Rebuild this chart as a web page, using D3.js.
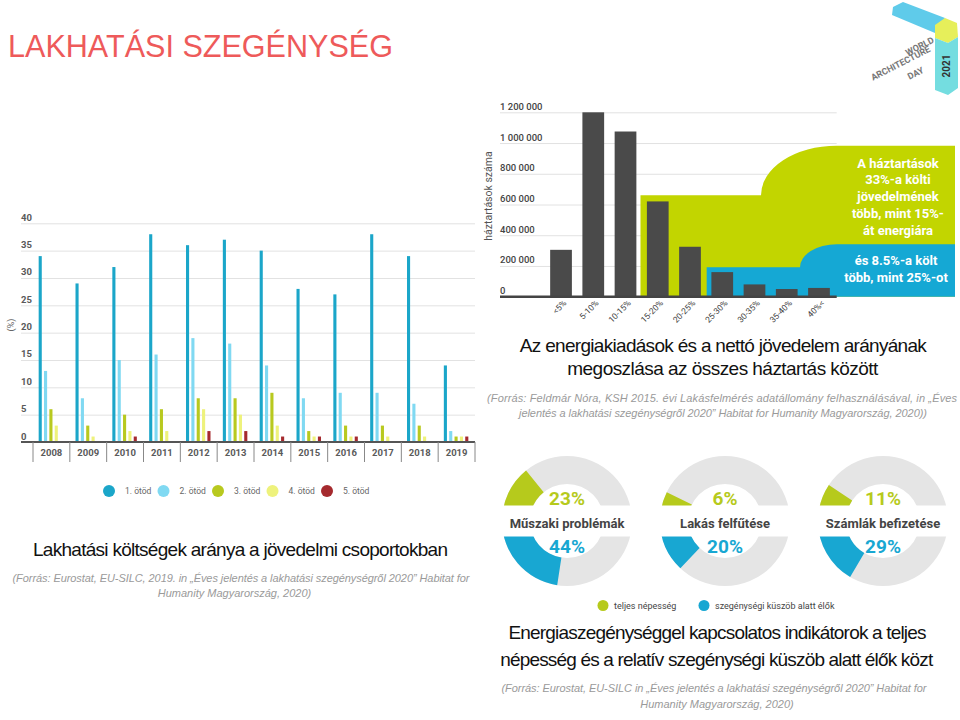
<!DOCTYPE html>
<html><head><meta charset="utf-8">
<script src="https://cdn.jsdelivr.net/npm/d3@7"></script>
<style>body{margin:0;background:#fff}svg{display:block}</style>
</head><body>
<svg id="c" width="960" height="720"></svg>
<script>
// ---------- DATA ----------
const years = ["2008","2009","2010","2011","2012","2013","2014","2015","2016","2017","2018","2019"];
const quintiles = ["1. ötöd","2. ötöd","3. ötöd","4. ötöd","5. ötöd"];
const q1 = [34,29,32,38,36,37,35,28,27,38,34,14];
const q2 = [13,8,15,16,19,18,14,8,9,9,7,2];
const q3 = [6,3,5,6,8,8,9,2,3,3,3,1];
const q4 = [3,1,2,2,6,5,3,1,1,1,1,1];
const q5 = [0,0,1,0,2,2,1,1,1,0,0,1];
const leftTicks = [0,5,10,15,20,25,30,35,40];

const shareCats = ["<5%","5-10%","10-15%","15-20%","20-25%","25-30%","30-35%","35-40%","40%<"];
const households = [305000,1200000,1075000,620000,325000,160000,80000,50000,57000];
const hhTicks = [0,200000,400000,600000,800000,1000000,1200000];
const greenNote = ["A háztartások","33%-a költi","jövedelmének","több, mint 15%-","át energiára"];
const blueNote = ["és 8.5%-a költ","több, mint 25%-ot"];

const indicators = ["Műszaki problémák","Lakás felfűtése","Számlák befizetése"];
const totalPop = [23,6,11];
const belowThreshold = [44,20,29];
const donutLegend = ["teljes népesség","szegénységi küszöb alatt élők"];

// ---------- STYLE ----------
const qColors = ["#1ba6c9","#80d9f2","#b8c91f","#eef27c","#a52a2e"];
const GREEN = "#c2d500", BLUE = "#15a8d4", DGREEN = "#b6ca1c", DBLUE = "#18a7d2";
const ARIAL = "'Liberation Sans', Arial, sans-serif";
const ROBOTO = "Roboto, 'Open Sans', sans-serif";

const root = d3.select("#c");

// ---------- TITLE ----------
root.append("text").attr("x",8).attr("y",57)
  .attr("font-family",ARIAL).attr("font-size",31).attr("fill","#ee5a5a")
  .attr("textLength",385).attr("lengthAdjust","spacingAndGlyphs")
  .text("LAKHATÁSI SZEGÉNYSÉG");

// ---------- LOGO ----------
const logo = root.append("g");
logo.append("polygon").attr("points","903,2 945,18 935,33 892,15 893,7").attr("fill","#5fcbea");
logo.append("polygon").attr("points","935,25 945,18 957,23 958,37 948,43 935,38").attr("fill","#e6ef5a");
logo.append("polygon").attr("points","935,38 948,43 958,37 958,88 948,95 935,90").attr("fill","#74dde0");
logo.append("text").attr("transform","translate(950,66) rotate(-90)").attr("text-anchor","middle")
  .attr("font-family",ROBOTO).attr("font-weight",700).attr("font-size",10).attr("fill","#333").text("2021");
[["WORLD",921,49],["ARCHITECTURE",902,66],["DAY",917,76]].forEach(d=>{
  logo.append("text").attr("transform",`translate(${d[1]},${d[2]}) rotate(-27)`).attr("text-anchor","middle")
    .attr("font-family",ROBOTO).attr("font-weight",700).attr("font-size",9).attr("fill","#777").text(d[0]);
});

// ---------- LEFT CHART ----------
const x0 = d3.scaleBand().domain(years).range([33,475]);
const yL = d3.scaleLinear().domain([0,40]).range([442,223.3]);
const groupW = 24.5;
const x1 = d3.scaleBand().domain(quintiles).range([0,groupW]).paddingInner(0.42);
const gL = root.append("g");

gL.append("g").attr("transform","translate(21,0)")
  .call(d3.axisRight(yL).tickValues(leftTicks).tickSize(454).tickFormat(d=>d))
  .call(g=>{
    g.select(".domain").remove();
    g.selectAll(".tick line").attr("stroke","#e2e2e2");
    g.selectAll(".tick text").attr("x",0).attr("y",-3).attr("dy",null).attr("text-anchor","start")
      .attr("font-family",ROBOTO).attr("font-size",9.5).attr("font-weight",700).attr("fill","#5a5a5a");
  });

gL.append("text").attr("transform","translate(14,325) rotate(-90)").attr("text-anchor","middle")
  .attr("font-family",ROBOTO).attr("font-size",9).attr("fill","#666").text("(%)");

const series = [q1,q2,q3,q4,q5];
years.forEach((yr,i)=>{
  const off = x0(yr) + (x0.bandwidth()-groupW)/2 - 0.5;
  series.forEach((s,k)=>{
    if (s[i] <= 0) return;
    gL.append("rect").attr("x",off + x1(quintiles[k])).attr("width",x1.bandwidth())
      .attr("y",yL(s[i])).attr("height",yL(0)-yL(s[i])).attr("fill",qColors[k]);
  });
});

gL.append("line").attr("x1",21).attr("x2",x0.range()[1]).attr("y1",yL(0)).attr("y2",yL(0))
  .attr("stroke","#555").attr("stroke-width",2);
const seps = years.map(y=>x0(y)).concat([x0.range()[1]]);
gL.selectAll(".sep").data(seps).enter().append("line")
  .attr("x1",d=>d).attr("x2",d=>d).attr("y1",yL(0)).attr("y2",yL(0)+20).attr("stroke","#888").attr("stroke-width",1);
gL.append("g").attr("transform",`translate(0,${yL(0)})`)
  .call(d3.axisBottom(x0).tickSize(0).tickPadding(7))
  .call(g=>{
    g.select(".domain").remove();
    g.selectAll("text").attr("font-family",ROBOTO).attr("font-size",9.5).attr("font-weight",700).attr("fill","#5a5a5a");
  });

// legend
const legL = gL.append("g");
quintiles.forEach((q,k)=>{
  const cx = 109 + k*54.5;
  legL.append("circle").attr("cx",cx).attr("cy",491).attr("r",6).attr("fill",qColors[k]);
  legL.append("text").attr("x",cx+16).attr("y",494).attr("font-family",ROBOTO).attr("font-size",8.5)
    .attr("fill","#666").text(q);
});

// captions
function caption(x,y,txt,len,size){
  root.append("text").attr("x",x).attr("y",y).attr("text-anchor","middle")
    .attr("font-family",ARIAL).attr("font-size",size||19).attr("fill","#111")
    .attr("textLength",len).attr("lengthAdjust","spacing").text(txt);
}
function source(x,y,txt,len){
  const t = root.append("text").attr("x",x).attr("y",y).attr("text-anchor","middle")
    .attr("font-family",ARIAL).attr("font-size",11).attr("font-style","italic").attr("fill","#9a9a9a").text(txt);
  if (len) t.attr("textLength",len).attr("lengthAdjust","spacing");
}
caption(240.5,556,"Lakhatási költségek aránya a jövedelmi csoportokban",415);
source(241,582,"(Forrás: Eurostat, EU-SILC, 2019. in „Éves jelentés a lakhatási szegénységről 2020” Habitat for",457);
source(234.5,597,"Humanity Magyarország, 2020)");

// ---------- RIGHT BAR CHART ----------
const xr = d3.scaleBand().domain(shareCats).range([545,835]).paddingInner(0.326).paddingOuter(0.16);
const yr = d3.scaleLinear().domain([0,1200000]).range([296.7,112.3]);
const gR = root.append("g");
const fmtHH = d=> d3.format(",")(d).replace(/,/g," ");

gR.append("g").attr("transform","translate(500,0)")
  .call(d3.axisRight(yr).tickValues(hhTicks).tickSize(336.7).tickFormat(fmtHH))
  .call(g=>{
    g.select(".domain").remove();
    g.selectAll(".tick line").attr("stroke","#e2e2e2");
    g.selectAll(".tick text").attr("x",0).attr("y",-3).attr("dy",null).attr("text-anchor","start")
      .attr("font-family",ROBOTO).attr("font-size",9.5).attr("font-weight",500).attr("fill","#444");
  });
gR.append("text").attr("transform","translate(492,196) rotate(-90)").attr("text-anchor","middle")
  .attr("font-family",ROBOTO).attr("font-size",10.5).attr("fill","#555").text("háztartások száma");

// highlight areas
const plotR = xr.range()[1] + 1.7, edge = 955, base = yr(0);
const gX = xr("15-20%") - 6.4, gTop = yr(660000), gUp = yr(982000), gCurve = plotR - 75.7;
const bX = xr("25-30%") - 4.7, bTop = yr(191000), bUp = yr(341000), bCurve = plotR - 36.7;
gR.append("path").attr("fill",GREEN)
  .attr("d",`M${gX},${base}V${gTop}H${gCurve}A${plotR-gCurve},${gTop-gUp} 0 0 1 ${plotR},${gUp}H${edge}V${base}Z`);
gR.append("path").attr("fill",BLUE)
  .attr("d",`M${bX},${base}V${bTop}H${bCurve}A${plotR-bCurve},${bTop-bUp} 0 0 1 ${plotR},${bUp}H${edge}V${base}Z`);

gR.selectAll(".hb").data(households).enter().append("rect")
  .attr("x",(d,i)=>xr(shareCats[i])).attr("width",xr.bandwidth())
  .attr("y",d=>yr(d)).attr("height",d=>yr(0)-yr(d)).attr("fill","#4a4a4a");
gR.append("line").attr("x1",500).attr("x2",plotR).attr("y1",base).attr("y2",base)
  .attr("stroke","#444").attr("stroke-width",2.5);
gR.selectAll(".xl").data(shareCats).enter().append("text")
  .attr("transform",d=>`translate(${xr(d)+xr.bandwidth()/2+6},${base+7}) rotate(-45)`)
  .attr("text-anchor","end").attr("font-family",ROBOTO).attr("font-size",8.5).attr("fill","#444").text(d=>d);

greenNote.forEach((t,i)=>{
  gR.append("text").attr("x",898).attr("y",167.5+i*16.8).attr("text-anchor","middle")
    .attr("font-family",ROBOTO).attr("font-weight",700).attr("font-size",13).attr("fill","#fff").text(t);
});
blueNote.forEach((t,i)=>{
  gR.append("text").attr("x",896).attr("y",265+i*17).attr("text-anchor","middle")
    .attr("font-family",ROBOTO).attr("font-weight",700).attr("font-size",13).attr("fill","#fff").text(t);
});

caption(723.3,352,"Az energiakiadások és a nettó jövedelem arányának",407);
caption(722.8,375,"megoszlása az összes háztartás között",311);
source(722,402,"(Forrás: Feldmár Nóra, KSH 2015. évi Lakásfelmérés adatállomány felhasználásával, in „Éves",470);
source(723,417,"jelentés a lakhatási szegénységről 2020” Habitat for Humanity Magyarország, 2020))",408);

// ---------- DONUTS ----------
const cy = 521, ro = 65, ri = 37, halfBand = 15.5;
const rm = (ro+ri)/2, cutA = Math.asin(halfBand/rm), vis = Math.PI - 2*cutA;
const arc = d3.arc().innerRadius(ri).outerRadius(ro);
const gD = root.append("g");
indicators.forEach((name,i)=>{
  const cx = 567 + i*158;
  const g = gD.append("g").attr("transform",`translate(${cx},${cy})`);
  g.append("path").attr("d",arc({startAngle:-Math.PI/2,endAngle:Math.PI*1.5})).attr("fill","#e5e5e5");
  const gEnd = -Math.PI/2 + cutA + vis*totalPop[i]/100;
  g.append("path").attr("d",arc({startAngle:-Math.PI/2,endAngle:gEnd})).attr("fill",DGREEN);
  const bStart = -Math.PI/2 - cutA - vis*belowThreshold[i]/100;
  g.append("path").attr("d",arc({startAngle:bStart,endAngle:-Math.PI/2})).attr("fill",DBLUE);
  g.append("rect").attr("x",-ro-3).attr("y",-halfBand).attr("width",2*ro+6).attr("height",2*halfBand).attr("fill","#fff");
  g.append("text").attr("y",-16).attr("text-anchor","middle").attr("font-family",ROBOTO).attr("font-weight",700)
    .attr("font-size",19).attr("fill",DGREEN).text(totalPop[i]+"%");
  g.append("text").attr("y",7).attr("text-anchor","middle").attr("font-family",ROBOTO).attr("font-weight",700)
    .attr("font-size",13).attr("fill","#444").text(name);
  g.append("text").attr("y",32).attr("text-anchor","middle").attr("font-family",ROBOTO).attr("font-weight",700)
    .attr("font-size",19).attr("fill",DBLUE).text(belowThreshold[i]+"%");
});
// donut legend
[[603,DGREEN],[704,DBLUE]].forEach((d,i)=>{
  gD.append("circle").attr("cx",d[0]).attr("cy",605.5).attr("r",5.5).attr("fill",d[1]);
  gD.append("text").attr("x",d[0]+11).attr("y",608.5).attr("font-family",ROBOTO).attr("font-size",9)
    .attr("fill","#444").text(donutLegend[i]);
});

caption(717.5,639,"Energiaszegénységgel kapcsolatos indikátorok a teljes",418);
caption(716.7,666,"népesség és a relatív szegénységi küszöb alatt élők közt",433);
source(714,692,"(Forrás: Eurostat, EU-SILC in „Éves jelentés a lakhatási szegénységről 2020” Habitat for",425);
source(717,708,"Humanity Magyarország, 2020)");
</script>
</body></html>
